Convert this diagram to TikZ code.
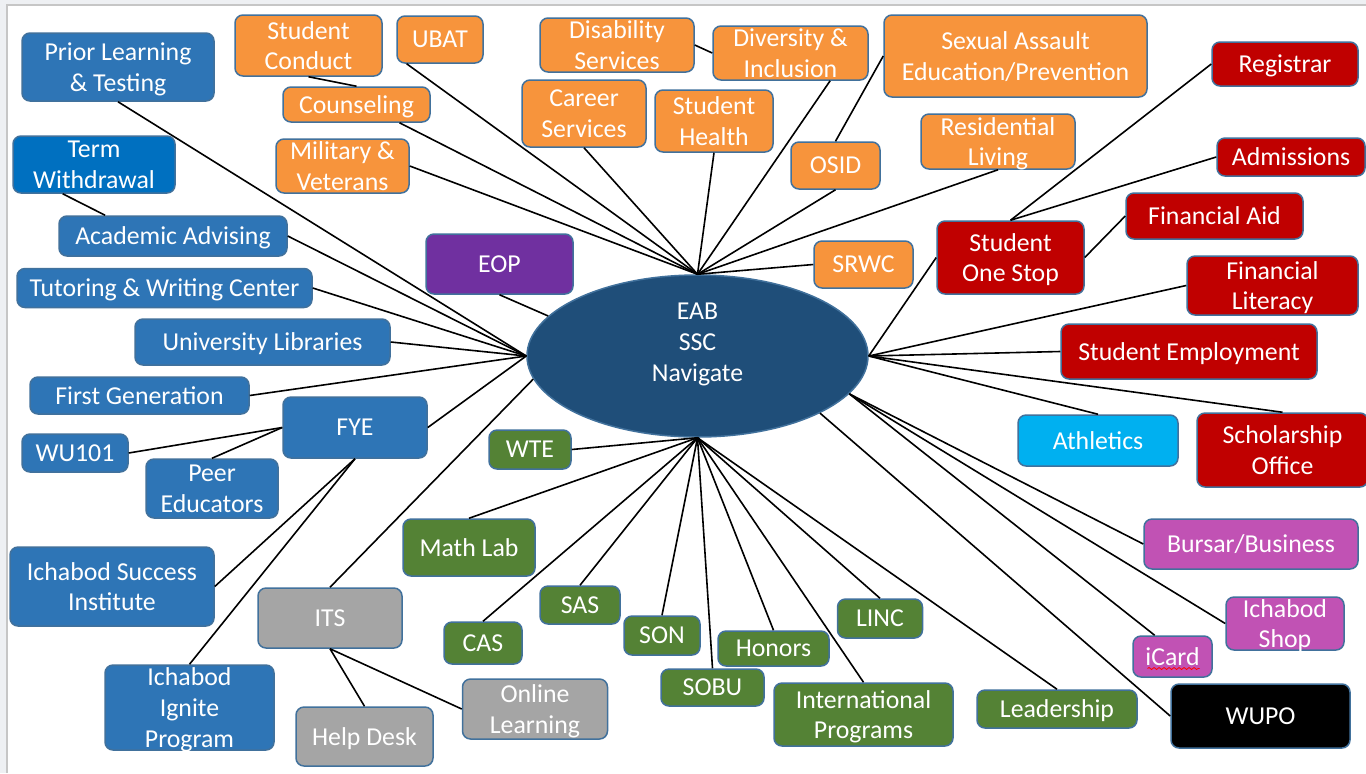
\documentclass[tikz,border=0pt]{standalone}
\usepackage{fontspec}
\setmainfont{Carlito}
\usetikzlibrary{shapes.geometric,calc,decorations.pathmorphing}

\definecolor{edgeblue}{HTML}{41719C}
\definecolor{boxblue}{HTML}{2E75B6}
\definecolor{termblue}{HTML}{0070C0}
\definecolor{hubblue}{HTML}{1F4E79}
\definecolor{boxorange}{HTML}{F7943C}
\definecolor{boxred}{HTML}{C00000}
\definecolor{boxgreen}{HTML}{548235}
\definecolor{boxgrey}{HTML}{A5A5A5}
\definecolor{boxpurple}{HTML}{7030A0}
\definecolor{boxpink}{HTML}{C152B4}
\definecolor{boxcyan}{HTML}{00B0F0}
\definecolor{framegrey}{HTML}{EEF0F3}

\begin{document}
\begin{tikzpicture}[x=0.5pt, y=-0.5pt,
        box/.style={rounded corners=4pt, draw=edgeblue, line width=0.75pt, text=white,
                    align=center, inner sep=0pt, text depth=0pt,
                    font=\fontsize{12.9}{15.3}\selectfont},
        wh/.style 2 args={minimum width=#1*0.5pt, minimum height=#2*0.5pt},
        blu/.style={box, fill=boxblue},
        org/.style={box, fill=boxorange},
        rd/.style={box, fill=boxred},
        grn/.style={box, fill=boxgreen},
        gry/.style={box, fill=boxgrey},
        pnk/.style={box, fill=boxpink},
        link/.style={line width=0.8pt, color=black}]
        \useasboundingbox (0, 0) rectangle (1366, 773);

        % Frame:
        \fill[color=framegrey] (0, 0) rectangle (1366, 773);
        \fill[color=white] (7, 5) rectangle (1366, 773);
        \draw[line width=0.6pt, color=gray!45] (7, 773) -- (7, 5) -- (1366, 5);

        % Hub:
        \node[ellipse, fill=hubblue, draw=edgeblue, line width=0.75pt, inner sep=0pt,
              minimum width=170.5pt, minimum height=81pt] (hub) at (697.5, 356) {};
        \node[text=white, align=center, font=\fontsize{12.9}{15.5}\selectfont] (hubtxt) at (697.5, 344) {EAB\\SSC\\Navigate};

        % Blue boxes:
        \node[blu, wh={192}{68}] (prior) at (118, 67) {Prior Learning\\\& Testing};
        \node[box, fill=termblue, wh={162}{57}] (term) at (94, 164.5) {Term\\Withdrawal};
        \node[blu, wh={228}{40}] (adv) at (173, 236) {Academic Advising};
        \node[blu, wh={295}{39}] (tut) at (164.5, 288) {Tutoring \& Writing Center};
        \node[blu, wh={255}{46}] (lib) at (262.5, 342) {University Libraries};
        \node[blu, wh={219}{37}] (first) at (139.5, 395.5) {First Generation};
        \node[blu, wh={144}{61}] (fye) at (355, 427.5) {FYE};
        \node[blu, wh={106}{38}] (wu) at (75, 453) {WU101};
        \node[blu, wh={132}{59}] (peer) at (212, 488.5) {Peer\\Educators};
        \node[blu, wh={204}{79}] (isi) at (112, 586.5) {Ichabod Success\\Institute};
        \node[blu, wh={169}{85}] (ignite) at (189.5, 707.5) {Ichabod\\Ignite\\Program};

        % Grey boxes:
        \node[gry, wh={144}{60}] (its) at (330, 618) {ITS};
        \node[gry, wh={137}{59}] (help) at (364.5, 736.5) {Help Desk};
        \node[gry, wh={145}{60}] (online) at (535, 709) {Online\\Learning};

        % Purple box:
        \node[box, fill=boxpurple, wh={147}{60}] (eop) at (499.5, 264) {EOP};

        % Orange boxes:
        \node[org, wh={147}{61}] (conduct) at (308.5, 45.5) {Student\\Conduct};
        \node[org, wh={86}{47}] (ubat) at (440, 39.5) {UBAT};
        \node[org, wh={147}{35}] (couns) at (356.5, 104.5) {Counseling};
        \node[org, wh={133}{54}] (mil) at (342.5, 166) {Military \&\\Veterans};
        \node[org, wh={154}{54}] (dis) at (617, 45) {Disability\\Services};
        \node[org, wh={155}{54}] (div) at (790.5, 53) {Diversity \&\\Inclusion};
        \node[org, wh={124}{67}] (career) at (584, 113.5) {Career\\Services};
        \node[org, wh={118}{62}] (health) at (714, 121) {Student\\Health};
        \node[org, wh={263}{82}] (sex) at (1015.5, 56) {Sexual Assault\\Education/Prevention};
        \node[org, wh={154}{55}] (res) at (998, 141.5) {Residential\\Living};
        \node[org, wh={89}{47}] (osid) at (835.5, 165.5) {OSID};
        \node[org, wh={99}{47}] (srwc) at (863.5, 264.5) {SRWC};

        % Red boxes:
        \node[rd, wh={146}{44}] (reg) at (1285, 64) {Registrar};
        \node[rd, wh={148}{38}] (adm) at (1291, 157) {Admissions};
        \node[rd, wh={177}{46}] (aid) at (1214.5, 216) {Financial Aid};
        \node[rd, wh={147}{73}] (sos) at (1010.5, 257.5) {Student\\One Stop};
        \node[rd, wh={171}{59}] (lit) at (1272.5, 285.5) {Financial\\Literacy};
        \node[rd, wh={256}{55}] (emp) at (1189, 351.5) {Student Employment};
        \node[rd, wh={171}{74}] (sch) at (1282.5, 450) {Scholarship\\Office};
        \node[box, fill=boxcyan, wh={160}{51}] (ath) at (1098, 440.5) {Athletics};

        % Pink and black boxes:
        \node[pnk, wh={214}{50}] (bur) at (1251, 544) {Bursar/Business};
        \node[pnk, wh={118}{53}] (shop) at (1285, 623.5) {Ichabod\\Shop};
        \node[pnk, wh={79}{41}] (icard) at (1172.5, 656.5) {iCard};
        \node[box, fill=black, wh={179}{64}] (wupo) at (1260.5, 716) {WUPO};
        \draw[color=red, line width=0.4pt, decorate,
              decoration={snake, amplitude=0.5pt, segment length=2.5pt}]
              ($(icard.center)+(-25, 12)$) -- ++(52, 0);

        % Green boxes:
        \node[grn, wh={82}{39}] (wte) at (530, 449.5) {WTE};
        \node[grn, wh={132}{57}] (math) at (469, 547.5) {Math Lab};
        \node[grn, wh={78}{42}] (cas) at (483, 643) {CAS};
        \node[grn, wh={80}{38}] (sas) at (580, 605) {SAS};
        \node[grn, wh={76}{39}] (son) at (662, 635.5) {SON};
        \node[grn, wh={103}{37}] (sobu) at (712.5, 687.5) {SOBU};
        \node[grn, wh={111}{35}] (hon) at (773.5, 648.5) {Honors};
        \node[grn, wh={85}{39}] (linc) at (880, 618.5) {LINC};
        \node[grn, wh={179}{63}] (intl) at (863.5, 714.5) {International\\Programs};
        \node[grn, wh={160}{38}] (lead) at (1057, 709) {Leadership};

        % Links to the hub:
        \foreach \a in {prior.south, adv.east, tut.east, lib.east, first.east, fye.east}
            \draw[link] (\a) -- (hub.west);
        \foreach \a in {ubat.-144, couns.-23, mil.east, career.south, health.south,
                        div.-35, osid.south, res.south, srwc.west}
            \draw[link] (\a) -- (hub.north);
        \foreach \a in {sos.west, lit.west, emp.west, ath.north, sch.north}
            \draw[link] (\a) -- (hub.east);
        \foreach \a in {bur.west, shop.west, icard.130}
            \draw[link] (\a) -- (hub.-14);
        \foreach \a in {wte.east, math.north, cas.north, sas.north, son.north,
                        sobu.north, hon.north, intl.north, linc.north, lead.north}
            \draw[link] (\a) -- (hub.south);
        \draw[link] (wupo.west) -- (hub.-25);
        \draw[link] (eop.south) -- (hub.165);
        \draw[link] (its.north) -- (hub.188);

        % Links between boxes:
        \draw[link] (term.-137) -- (adv.163);
        \draw[link] (conduct.south) -- (couns.north);
        \draw[link] (dis.east) -- (div.west);
        \draw[link] (sex.west) -- (osid.north);
        \draw[link] (reg.west) -- (sos.north);
        \draw[link] (adm.west) -- (sos.north);
        \draw[link] (aid.west) -- (sos.east);
        \draw[link] (fye.west) -- (wu.east);
        \draw[link] (fye.west) -- (peer.north);
        \draw[link] (fye.south) -- (isi.east);
        \draw[link] (fye.south) -- (ignite.north);
        \draw[link] (its.south) -- (help.north);
        \draw[link] (its.south) -- (online.west);
    \end{tikzpicture}
\end{document}
